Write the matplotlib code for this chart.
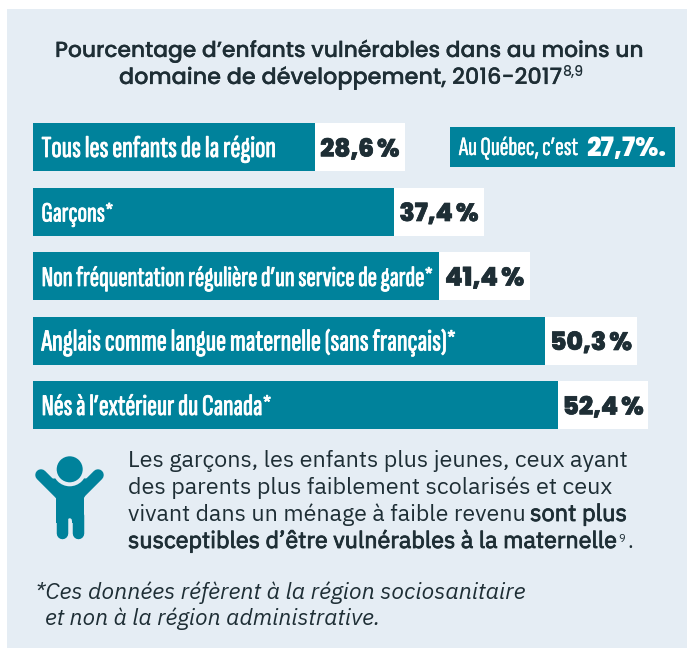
import matplotlib
matplotlib.use("Agg")
import matplotlib.pyplot as plt
import matplotlib.patheffects as pe
from matplotlib.patches import Rectangle, Circle, Polygon

W, H = 687, 649
TEAL = "#00829B"
BG = "#E5EDF4"
INK = "#1E2E35"

# Data
categories = ["Tous les enfants de la région", "Garçons*",
              "Non fréquentation régulière d’un service de garde*",
              "Anglais comme langue maternelle (sans français)*",
              "Nés à l’extérieur du Canada*"]
value_labels = ["28,6\u2009%", "37,4\u2009%", "41,4\u2009%", "50,3\u2009%", "52,4\u2009%"]
bar_lengths = [28.2, 36.1, 40.6, 51.2, 52.5]   # drawn lengths
value_box = [8.95, 9.0, 9.1, 9.2, 9.0]
label_widths = [234, 72, 391, 414, 230]
value_widths = [79, 79, 79, 82, 81]

COND = ["Sofia Sans Extra Condensed", "Liberation Sans Narrow", "DejaVu Sans"]
HEAD = ["Poppins", "Montserrat", "DejaVu Sans"]
BODY = ["IBM Plex Sans", "Public Sans", "DejaVu Sans"]

fig = plt.figure(figsize=(W / 100, H / 100), dpi=100, facecolor="white")
back = fig.add_axes([0, 0, 1, 1])
back.set_xlim(0, W); back.set_ylim(H, 0); back.axis("off")
back.add_patch(Rectangle((7, 9), W - 7, 639, fc=BG, ec="none"))

# Bars: one x unit = 10 px, origin at the left edge of the bars; rows 64.5 px apart
ax = fig.add_axes([0, 0, 1, 1], facecolor="none")
ax.set_xlim(-3.3, (W - 33) / 10)
row = 64.5
ax.set_ylim((H - 147) / row, -147 / row)
ax.axis("off")
ys = range(len(categories))
ax.barh(ys, bar_lengths, height=48 / row, color=TEAL, linewidth=0)
ax.barh(ys, value_box, left=bar_lengths, height=48 / row, color="white", linewidth=0)

canvas = fig.add_axes([0, 0, 1, 1], facecolor="none")
canvas.set_xlim(0, W); canvas.set_ylim(H, 0); canvas.axis("off")
rend = fig.canvas.get_renderer()


def put(x, y, s, width=None, size=14, stroke=0, color=INK, ha="left", **kw):
    t = canvas.text(x, y, s, fontsize=size, color=color, ha=ha, va="baseline", **kw)
    if width is not None:
        w = t.get_window_extent(rend).width
        t.set_fontsize(size * width / w)
    if stroke:
        t.set_path_effects([pe.withStroke(linewidth=stroke, foreground=color)])
    return t


for i, (c, v) in enumerate(zip(categories, value_labels)):
    base = 147 + i * row + 10
    put(41.5, base, c, width=label_widths[i], size=20, stroke=0.6, color="white",
        family=COND)
    cx = 33 + (bar_lengths[i] + value_box[i] / 2) * 10
    put(cx, base - 0.5, v, width=value_widths[i], size=18, ha="center", family=HEAD, weight=800, stroke=0.5)

# Quebec callout
back.add_patch(Rectangle((450, 127), 225, 40, fc=TEAL, ec="none"))
put(459, 155, "Au Québec, c’est", width=119, size=16, color="white", family=COND, stroke=0.3)
put(586, 156, "27,7%.", width=80, size=17, color="white", family=HEAD, weight=800)

# Title
put(55, 57, "Pourcentage d’enfants vulnérables dans au moins un", width=589, size=16,
    family=HEAD, weight=500, stroke=0.15)
put(119, 84, "domaine de développement, 2016-2017", width=443, size=16, family=HEAD, weight=500, stroke=0.15)
put(562, 76, "8,9", width=21, size=8, family=HEAD, weight=500)

# Body
put(128, 467, "Les garçons, les enfants plus jeunes, ceux ayant", width=499, size=15, family=BODY)
put(128, 494, "des parents plus faiblement scolarisés et ceux", width=485, size=15, family=BODY)
put(128, 521, "vivant dans un ménage à faible revenu", width=396, size=15, family=BODY)
put(530, 521, "sont plus", width=97, size=15, family=BODY, weight="bold", stroke=0.6)
put(128, 548, "susceptibles d’être vulnérables à la maternelle", width=489, size=15, family=BODY,
    weight="bold", stroke=0.6)
put(618.5, 542, "9", size=8, family=BODY)
put(627, 548, ".", size=15, family=BODY)

# Footnote
put(35, 599, "*Ces données réfèrent à la région sociosanitaire", width=491, size=15, family=BODY, style="italic")
put(45, 625, "et non à la région administrative.", width=335, size=15, family=BODY, style="italic")

# Child icon
lw = 11.5 * 72 / 100
for x0, y0, x1, y1 in [(41, 475, 62, 496), (98, 475, 77, 496), (61.7, 515, 61.7, 533), (77.8, 515, 77.8, 533)]:
    back.plot([x0, x1], [y0, y1], color=TEAL, lw=lw, solid_capstyle="round")
back.add_patch(Polygon([(56, 523), (56, 498), (48, 479), (60, 478), (80, 478), (92, 479),
                        (84, 498), (84, 523)], fc=TEAL, ec="none"))
back.add_patch(Rectangle((67.5, 521), 4.5, 18, fc=BG, ec="none"))
back.add_patch(Circle((69.7, 520.5), 2.2, fc=BG, ec="none"))
back.add_patch(Circle((69.7, 469.3), 17, fc=BG, ec="none"))
back.add_patch(Circle((69.7, 469.3), 13, fc=TEAL, ec="none"))

fig.savefig("out.png", dpi=100, facecolor="white")
